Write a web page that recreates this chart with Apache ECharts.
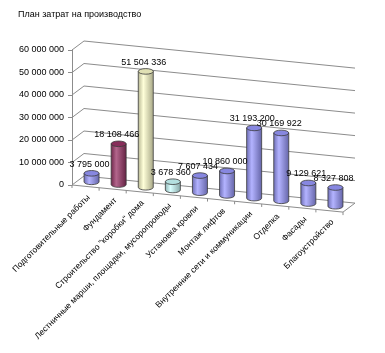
<!DOCTYPE html>
<html>
<head>
<meta charset="utf-8">
<script src="https://cdn.jsdelivr.net/npm/echarts@6/dist/echarts.min.js"></script>
<style>
html, body { margin: 0; padding: 0; background: #fff; }
#main { width: 385px; height: 353px; }
</style>
</head>
<body>
<div id="main"></div>
<script>
// данные графика
var categories = [
    'Подготовительные работы',
    'Фундамент',
    'Строительство "коробки" дома',
    'Лестничные марши, площадки, мусоропроводы',
    'Установка кровли',
    'Монтаж лифтов',
    'Внутренние сети и коммуникации',
    'Отделка',
    'Фасады',
    'Благоустройство'
];
var costs = [3795000, 18108466, 51504336, 3678360, 7607434, 10860000, 31193200, 30169922, 9129621, 8327808];
var yTicks = [0, 10000000, 20000000, 30000000, 40000000, 50000000, 60000000];
var barColors = ['#9999FF', '#993366', '#FFFFCC', '#CCFFFF', '#9999FF', '#9999FF', '#9999FF', '#9999FF', '#9999FF', '#9999FF'];

var SLOPE = 0.1;          // наклон пола
var DEPTH = [12, -9];     // глубина (3D)
var RX = 7.5, RY = 2.8;   // цилиндр
var GRID_COLOR = '#8c8c8c';
var FONT = '"Liberation Sans", Arial, sans-serif';

function fmt(v) {
    return String(v).replace(/\B(?=(\d{3})+(?!\d))/g, ' ');
}
function mix(hex, target, t) {
    var a = parseInt(hex.slice(1), 16), b = parseInt(target.slice(1), 16);
    var r = Math.round(((a >> 16) & 255) * (1 - t) + ((b >> 16) & 255) * t);
    var g = Math.round(((a >> 8) & 255) * (1 - t) + ((b >> 8) & 255) * t);
    var bl = Math.round((a & 255) * (1 - t) + (b & 255) * t);
    return 'rgb(' + r + ',' + g + ',' + bl + ')';
}
function skew(cs, x, y) {
    return [x, y + SLOPE * (x - cs.x)];
}

// стены и пол
function renderWall(params, api) {
    var cs = params.coordSys;
    var v = api.value(0);
    var y = api.coord([0, v])[1];
    var fl = [cs.x, y];
    var bl = [cs.x + DEPTH[0], y + DEPTH[1]];
    var fr = skew(cs, cs.x + cs.width, y);
    var br = [fr[0] + DEPTH[0], fr[1] + DEPTH[1]];
    var children = [{
        type: 'polyline',
        shape: { points: [fl, bl, br] },
        style: { stroke: GRID_COLOR, lineWidth: 1, fill: null }
    }];
    if (v === 0) {
        children.push({
            type: 'polyline',
            shape: { points: [fl, fr, br] },
            style: { stroke: GRID_COLOR, lineWidth: 1, fill: null }
        });
    }
    return { type: 'group', children: children };
}

// цилиндры
function renderBar(params, api) {
    var cs = params.coordSys;
    var i = api.value(0), v = api.value(1);
    var base = api.coord([i, 0]);
    var top = api.coord([i, v]);
    var off = SLOPE * (base[0] - cs.x) + DEPTH[1] / 2;
    var cx = base[0] + DEPTH[0] / 2;
    var yb = base[1] + off, yt = top[1] + off;
    var c = barColors[i];
    var body = 'M' + (cx - RX) + ',' + yt + ' L' + (cx - RX) + ',' + yb +
        ' A' + RX + ',' + RY + ' 0 0 0 ' + (cx + RX) + ',' + yb +
        ' L' + (cx + RX) + ',' + yt + ' Z';
    var cap = 'M' + (cx - RX) + ',' + yt + ' A' + RX + ',' + RY + ' 0 1 0 ' + (cx + RX) + ',' + yt +
        ' A' + RX + ',' + RY + ' 0 1 0 ' + (cx - RX) + ',' + yt + ' Z';
    return {
        type: 'group',
        children: [{
            type: 'path',
            shape: { pathData: body },
            style: {
                fill: {
                    type: 'linear', x: 0, y: 0, x2: 1, y2: 0,
                    colorStops: [
                        { offset: 0, color: mix(c, '#000000', 0.3) },
                        { offset: 0.35, color: mix(c, '#FFFFFF', 0.25) },
                        { offset: 1, color: mix(c, '#000000', 0.35) }
                    ]
                },
                stroke: '#3a3a3a', lineWidth: 0.8
            }
        }, {
            type: 'path',
            shape: { pathData: cap },
            style: { fill: mix(c, '#000000', 0.12), stroke: '#3a3a3a', lineWidth: 0.8 }
        }]
    };
}

// подписи значений
function renderValue(params, api) {
    var cs = params.coordSys;
    var i = api.value(0), v = api.value(1);
    var base = api.coord([i, 0]);
    var top = api.coord([i, v]);
    var off = SLOPE * (base[0] - cs.x) + DEPTH[1] / 2;
    return {
        type: 'text',
        style: {
            x: base[0] + DEPTH[0] / 2 - 2,
            y: top[1] + off - 9,
            text: fmt(v),
            align: 'center', verticalAlign: 'middle',
            font: '9px ' + FONT, fill: '#000'
        }
    };
}

// подписи категорий и засечки
function renderCategory(params, api) {
    var cs = params.coordSys;
    var i = api.value(0);
    var p = api.coord([i, 0]);
    var bw = api.size([1, 0])[0];
    var c = skew(cs, p[0], p[1]);
    var left = skew(cs, p[0] - bw / 2, p[1]);
    var children = [{
        type: 'line',
        shape: { x1: left[0], y1: left[1], x2: left[0], y2: left[1] + 3 },
        style: { stroke: GRID_COLOR, lineWidth: 1 }
    }, {
        type: 'text',
        x: c[0] + 3, y: c[1] + 10,
        rotation: Math.PI / 4,
        style: {
            text: categories[i],
            align: 'right', verticalAlign: 'middle',
            font: '8.5px ' + FONT, fill: '#000'
        }
    }];
    if (i === categories.length - 1) {
        var right = skew(cs, p[0] + bw / 2, p[1]);
        children.push({
            type: 'line',
            shape: { x1: right[0], y1: right[1], x2: right[0], y2: right[1] + 3 },
            style: { stroke: GRID_COLOR, lineWidth: 1 }
        });
    }
    return { type: 'group', children: children };
}

var option = {
    backgroundColor: '#fff',
    animation: false,
    title: {
        text: 'План затрат на производство',
        left: 13, top: 5,
        textStyle: { fontSize: 9, fontWeight: 'normal', color: '#000', fontFamily: FONT }
    },
    grid: { left: 72, top: 50, width: 271, height: 135 },
    xAxis: {
        type: 'category',
        data: categories,
        show: false
    },
    yAxis: {
        type: 'value',
        min: 0, max: 60000000, interval: 10000000,
        axisLine: { show: true, lineStyle: { color: GRID_COLOR } },
        axisTick: { show: true, length: 4, lineStyle: { color: GRID_COLOR } },
        splitLine: { show: false },
        axisLabel: {
            margin: 8, fontSize: 9, color: '#000', fontFamily: FONT,
            formatter: function (v) { return fmt(v); }
        }
    },
    series: [{
        type: 'custom', z: 1, silent: true,
        renderItem: renderWall,
        data: yTicks.map(function (v) { return [v]; })
    }, {
        type: 'custom', z: 2, silent: true,
        renderItem: renderCategory,
        data: categories.map(function (n, i) { return [i]; })
    }, {
        type: 'custom', z: 3,
        renderItem: renderBar,
        data: costs.map(function (v, i) { return [i, v]; })
    }, {
        type: 'custom', z: 4, silent: true,
        renderItem: renderValue,
        data: costs.map(function (v, i) { return [i, v]; })
    }]
};

var chart = echarts.init(document.getElementById('main'));
chart.setOption(option);
window.addEventListener('resize', chart.resize);
</script>
</body>
</html>
